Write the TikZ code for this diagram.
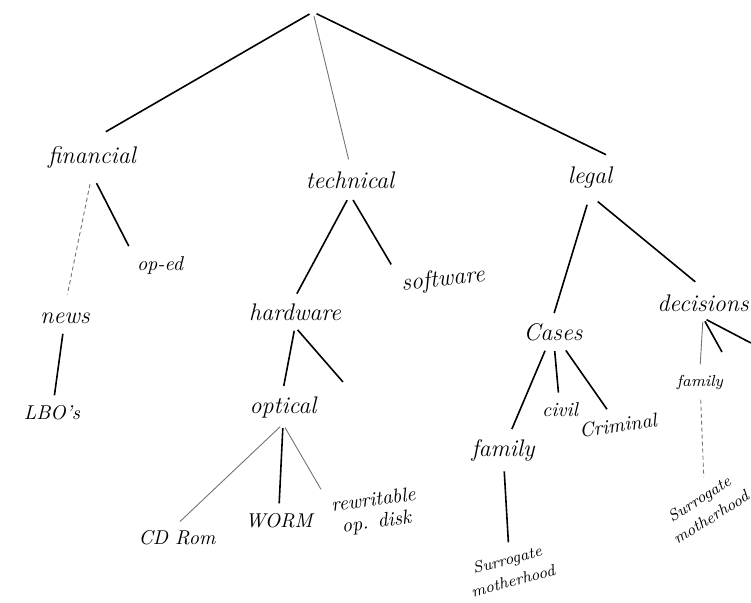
\documentclass[tikz,border=0pt]{standalone}
\usepackage{tikz}
\usetikzlibrary{positioning}

\begin{document}
\begin{tikzpicture}[x=0.5pt,y=-0.5pt,
  every node/.style={align=center,inner sep=3pt},
  word/.style={font=\fontsize{12}{13}\selectfont\itshape},
  smallword/.style={font=\fontsize{10}{11}\selectfont\itshape},
  tinyword/.style={font=\fontsize{8}{11}\selectfont\itshape},
  branch/.style={line width=0.8pt,shorten <=2pt,shorten >=2pt},
  faint/.style={branch,line width=0.45pt,black!55},
  faintdash/.style={faint,dash pattern=on 2pt off 1.5pt}]
  \useasboundingbox (0,0) rectangle (751,602);
  % top level
  \coordinate (root) at (313,12);
  \node[word] (fin) at (92,157) {financial};
  \node[word] (tech) at (350,180) {technical};
  \node[word] (legal) at (590,178) {legal};
  \draw[branch,shorten >=8pt] (root) -- (fin.north);
  \draw[faint,shorten >=3pt] (root) -- (tech.north);
  \draw[branch,shorten >=7pt] (root) -- (legal.north east);
  % financial
  \node[word] (news) at (65,318) {news};
  \node[smallword] (oped) at (160,265) {op-ed};
  \node[smallword] (lbos) at (52,413) {LBO's};
  \draw[faintdash,shorten <=5pt,shorten >=6pt] (fin.south) -- (news.north);
  \draw[branch,shorten <=5pt] (fin.south) -- (oped.north west);
  \draw[branch] (news) -- (lbos);
  % technical
  \node[word] (hard) at (295,312) {hardware};
  \node[word,rotate=6] (soft) at (443,280) {software};
  \draw[branch,shorten <=3pt] (tech.south) -- (hard.north);
  \draw[branch,shorten <=3pt] (tech.south) -- (soft.north west);
  \node[word] (optical) at (283,407) {optical};
  \coordinate (hwfree) at (343,382);
  \draw[branch] (hard.south) -- (optical.north);
  \draw[branch,shorten >=0pt] (hard.south) -- (hwfree);
  \node[smallword] (cdrom) at (177,538) {CD Rom};
  \node[smallword] (worm) at (279,521) {WORM};
  \node[smallword,rotate=8] (rewr) at (375,512) {rewritable\\op. disk};
  \draw[faint] (optical.south) -- (cdrom.north);
  \draw[branch] (optical.south) -- (worm.north);
  \draw[faint] (optical.south) -- (rewr.north west);
  % legal
  \node[word] (cases) at (553,332) {Cases};
  \node[word] (decis) at (703,303) {decisions};
  \draw[branch,shorten <=5pt] (legal.south) -- (cases.north);
  \draw[branch,shorten <=5pt,shorten >=5pt] (legal.south) -- (decis.north);
  \node[word] (family) at (503,450) {family};
  \node[smallword] (civil) at (560,410) {civil};
  \node[smallword,rotate=8] (crim) at (618,425) {Criminal};
  \draw[branch] (cases) -- (family);
  \draw[branch] (cases) -- (civil);
  \draw[branch] (cases) -- (crim);
  \node[tinyword,rotate=15] (surr) at (510,570) {Surrogate\\motherhood};
  \draw[branch] (family) -- (surr);
  \node[tinyword] (famdec) at (700,382) {family};
  \coordinate (decfree) at (722,352);
  \coordinate (decedge) at (751,343);
  \draw[faint] (decis.south) -- (famdec.north);
  \draw[branch,shorten >=0pt] (decis.south) -- (decfree);
  \draw[branch,shorten >=0pt] (decis.south) -- (decedge);
  \node[tinyword,rotate=32] (surrdec) at (705,508) {Surrogate\\motherhood};
  \draw[faintdash] (famdec) -- (surrdec);
\end{tikzpicture}
\end{document}
